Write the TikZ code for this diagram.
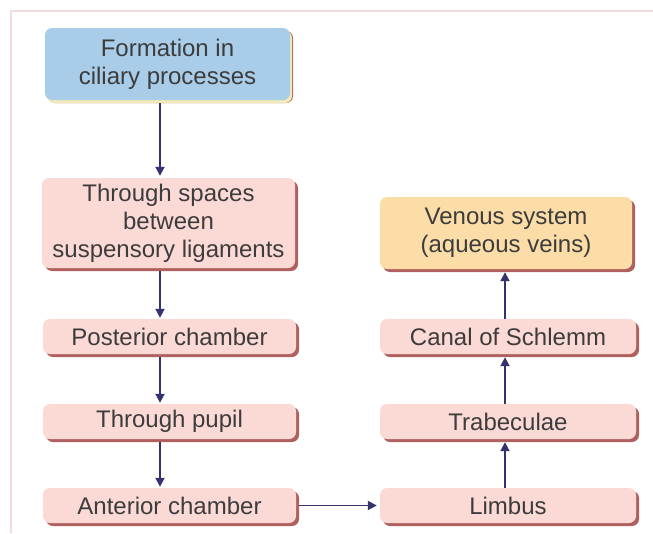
\documentclass[tikz,border=0pt]{standalone}
\usepackage{fontspec}
\setmainfont{Liberation Sans}
\usetikzlibrary{arrows.meta,shadows}
\definecolor{bluebox}{HTML}{A9CCE8}
\definecolor{pinkbox}{HTML}{FBDAD6}
\definecolor{peachbox}{HTML}{FCDDA8}
\definecolor{redshadow}{HTML}{B0605E}
\definecolor{yellowshadow}{HTML}{EFEAB8}
\definecolor{arrowcol}{HTML}{34336E}
\definecolor{textcol}{HTML}{3C3C3C}
\definecolor{framecol}{HTML}{F5DCDC}
\tikzset{
  box/.style={rectangle, rounded corners=7pt, inner sep=2pt, align=center,
    text=textcol, font=\fontsize{24}{28}\selectfont,
    drop shadow={shadow xshift=3pt, shadow yshift=-3pt, fill=redshadow, opacity=1}},
  pinkstyle/.style={box, fill=pinkbox},
  bluestyle/.style={box, fill=bluebox,
    drop shadow={shadow xshift=2pt, shadow yshift=-3pt, fill=yellowshadow, opacity=1}},
  peachstyle/.style={box, fill=peachbox},
  arr/.style={draw=arrowcol, line width=1.8pt, -{Triangle[length=9pt,width=9pt]}}
}
\begin{document}
\begin{tikzpicture}[x=1pt,y=-1pt]
\useasboundingbox (0,0) rectangle (653,533);
\fill[white] (0,0) rectangle (653,533);
\draw[framecol, line width=1.2pt] (11,533) -- (11,11) -- (653,11);

\node[bluestyle, minimum width=245pt, minimum height=72pt] (f) at (167.5,64) {Formation in\\ciliary processes};
\node[pinkstyle, minimum width=253pt, minimum height=90pt] (s) at (168.5,223) {Through spaces\\between\\suspensory ligaments};
\node[pinkstyle, minimum width=253pt, minimum height=35pt] (p) at (169.5,336.5) {Posterior chamber};
\node[pinkstyle, minimum width=253pt, minimum height=35pt] (u) at (169.5,421.5) {Through pupil};
\node[pinkstyle, minimum width=253pt, minimum height=35pt] (a) at (169.5,505.5) {Anterior chamber};

\node[peachstyle, minimum width=252pt, minimum height=72pt] (v) at (506,233) {Venous system\\(aqueous veins)};
\node[pinkstyle, minimum width=256pt, minimum height=35pt] (c) at (508,336.5) {Canal of Schlemm};
\node[pinkstyle, minimum width=256pt, minimum height=35pt] (t) at (508,421.5) {Trabeculae};
\node[pinkstyle, minimum width=256pt, minimum height=35pt] (l) at (508,505.5) {Limbus};

\coordinate (lx) at (160,0);
\coordinate (rx) at (505,0);

\draw[arr] ([yshift=-3pt]f.south -| lx) -- ([yshift=2pt]s.north -| lx);
\draw[arr] ([yshift=-3pt]s.south -| lx) -- ([yshift=1pt]p.north -| lx);
\draw[arr] ([yshift=-3pt]p.south -| lx) -- ([yshift=1pt]u.north -| lx);
\draw[arr] ([yshift=-3pt]u.south -| lx) -- ([yshift=1pt]a.north -| lx);

\draw[arr] ([xshift=3pt]a.east) -- ([xshift=-3pt]l.west);

\draw[arr] (l.north -| rx) -- ([yshift=-3pt]t.south -| rx);
\draw[arr] (t.north -| rx) -- ([yshift=-3pt]c.south -| rx);
\draw[arr] (c.north -| rx) -- ([yshift=-3pt]v.south -| rx);
\end{tikzpicture}
\end{document}
